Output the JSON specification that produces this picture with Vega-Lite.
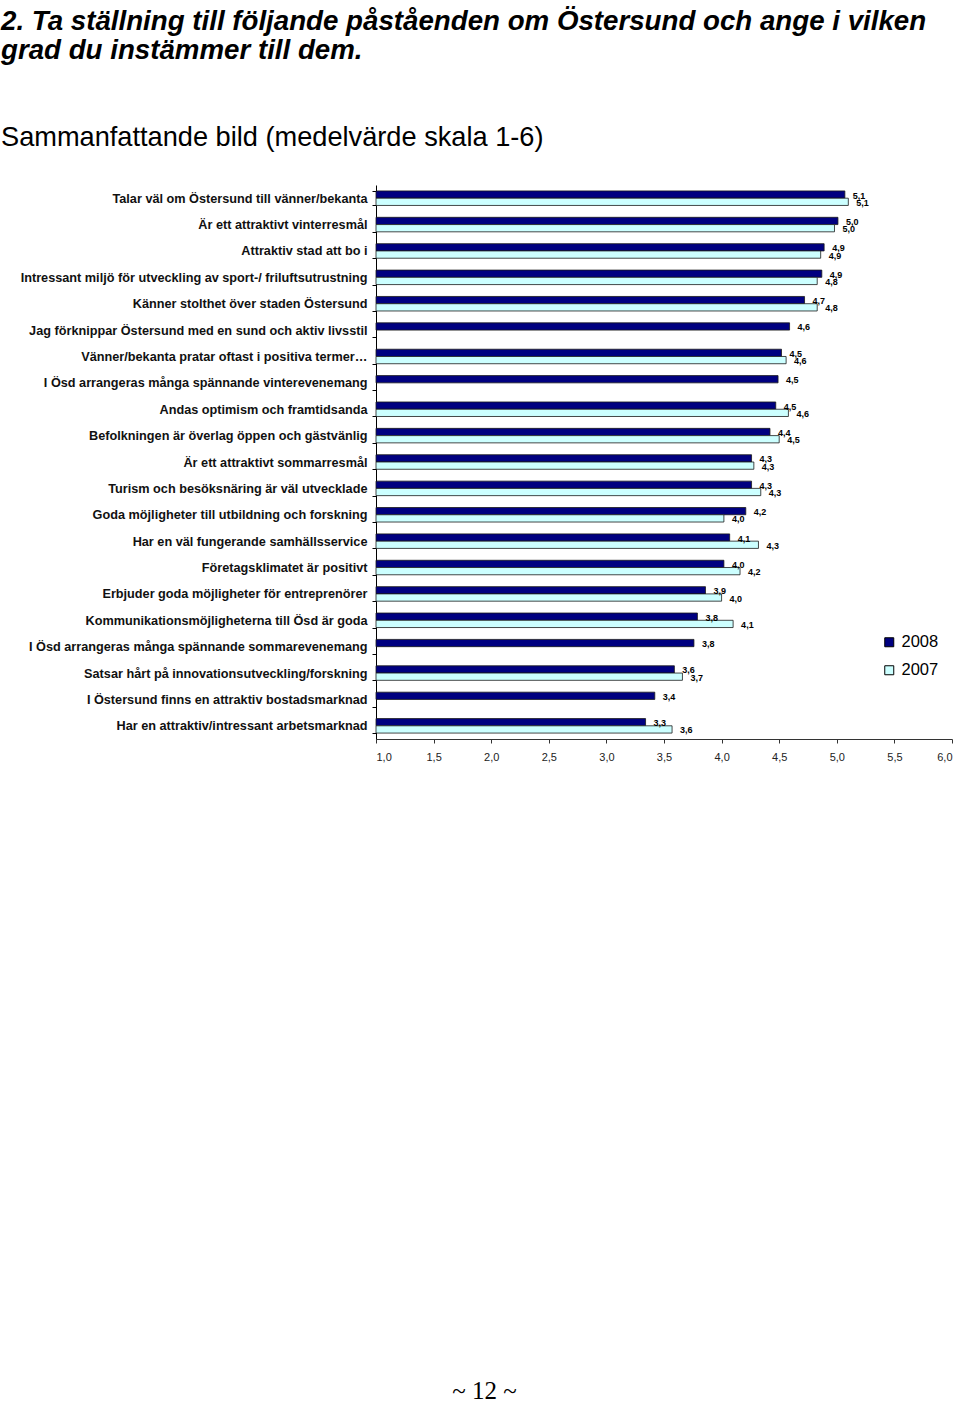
{
  "$schema": "https://vega.github.io/schema/vega-lite/v6.json",
  "autosize": {"type": "none"},
  "padding": {"left": 376, "top": 185, "right": 8, "bottom": 665},
  "width": 576,
  "height": 554,
  "background": "white",
  "title": {
    "text": ["2. Ta ställning till följande påståenden om Östersund och ange i vilken", "grad du instämmer till dem."],
    "subtitle": "Sammanfattande bild (medelvärde skala 1-6)",
    "frame": "group",
    "anchor": "start",
    "orient": "top",
    "dx": -375,
    "offset": 28,
    "font": "Liberation Sans",
    "fontSize": 27.7,
    "fontStyle": "italic",
    "fontWeight": "bold",
    "color": "#000000",
    "lineHeight": 29,
    "subtitleFont": "Liberation Sans",
    "subtitleFontSize": 27.2,
    "subtitleFontWeight": "normal",
    "subtitleColor": "#000000",
    "subtitlePadding": 60
  },
  "data": {
    "values": [
      {"q": "Talar väl om Östersund till vänner/bekanta", "year": "2008", "v": 5.07},
      {"q": "Talar väl om Östersund till vänner/bekanta", "year": "2007", "v": 5.10},
      {"q": "Är ett attraktivt vinterresmål", "year": "2008", "v": 5.01},
      {"q": "Är ett attraktivt vinterresmål", "year": "2007", "v": 4.98},
      {"q": "Attraktiv stad att bo i", "year": "2008", "v": 4.89},
      {"q": "Attraktiv stad att bo i", "year": "2007", "v": 4.86},
      {"q": "Intressant miljö för utveckling av sport-/ friluftsutrustning", "year": "2008", "v": 4.87},
      {"q": "Intressant miljö för utveckling av sport-/ friluftsutrustning", "year": "2007", "v": 4.83},
      {"q": "Känner stolthet över staden Östersund", "year": "2008", "v": 4.72},
      {"q": "Känner stolthet över staden Östersund", "year": "2007", "v": 4.83},
      {"q": "Jag förknippar Östersund med en sund och aktiv livsstil", "year": "2008", "v": 4.59},
      {"q": "Vänner/bekanta pratar oftast i positiva termer…", "year": "2008", "v": 4.52},
      {"q": "Vänner/bekanta pratar oftast i positiva termer…", "year": "2007", "v": 4.56},
      {"q": "I Ösd arrangeras många spännande vinterevenemang", "year": "2008", "v": 4.49},
      {"q": "Andas optimism och framtidsanda", "year": "2008", "v": 4.47},
      {"q": "Andas optimism och framtidsanda", "year": "2007", "v": 4.58},
      {"q": "Befolkningen är överlag öppen och gästvänlig", "year": "2008", "v": 4.42},
      {"q": "Befolkningen är överlag öppen och gästvänlig", "year": "2007", "v": 4.50},
      {"q": "Är ett attraktivt sommarresmål", "year": "2008", "v": 4.26},
      {"q": "Är ett attraktivt sommarresmål", "year": "2007", "v": 4.28},
      {"q": "Turism och besöksnäring är väl utvecklade", "year": "2008", "v": 4.26},
      {"q": "Turism och besöksnäring är väl utvecklade", "year": "2007", "v": 4.34},
      {"q": "Goda möjligheter till utbildning och forskning", "year": "2008", "v": 4.21},
      {"q": "Goda möjligheter till utbildning och forskning", "year": "2007", "v": 4.02},
      {"q": "Har en väl fungerande samhällsservice", "year": "2008", "v": 4.07},
      {"q": "Har en väl fungerande samhällsservice", "year": "2007", "v": 4.32},
      {"q": "Företagsklimatet är positivt", "year": "2008", "v": 4.02},
      {"q": "Företagsklimatet är positivt", "year": "2007", "v": 4.16},
      {"q": "Erbjuder goda möjligheter för entreprenörer", "year": "2008", "v": 3.86},
      {"q": "Erbjuder goda möjligheter för entreprenörer", "year": "2007", "v": 4.00},
      {"q": "Kommunikationsmöjligheterna till Ösd är goda", "year": "2008", "v": 3.79},
      {"q": "Kommunikationsmöjligheterna till Ösd är goda", "year": "2007", "v": 4.10},
      {"q": "I Ösd arrangeras många spännande sommarevenemang", "year": "2008", "v": 3.76},
      {"q": "Satsar  hårt på innovationsutveckling/forskning", "year": "2008", "v": 3.59},
      {"q": "Satsar  hårt på innovationsutveckling/forskning", "year": "2007", "v": 3.66},
      {"q": "I Östersund finns en attraktiv bostadsmarknad", "year": "2008", "v": 3.42},
      {"q": "Har en attraktiv/intressant arbetsmarknad", "year": "2008", "v": 3.34},
      {"q": "Har en attraktiv/intressant arbetsmarknad", "year": "2007", "v": 3.57}
    ]
  },
  "encoding": {
    "y": {
      "field": "q",
      "type": "nominal",
      "sort": null,
      "scale": {"paddingInner": 0.45, "paddingOuter": 0.225},
      "axis": {
        "title": null,
        "tickBand": "extent",
        "tickSize": 4,
        "tickColor": "#000000",
        "domainColor": "#000000",
        "labelFont": "Liberation Sans",
        "labelFontSize": 12.7,
        "labelFontWeight": "bold",
        "labelColor": "#111111",
        "labelPadding": 5,
        "labelLimit": 400
      }
    },
    "yOffset": {"field": "year", "type": "nominal", "scale": {"domain": ["2008", "2007"]}},
    "x": {
      "field": "v",
      "type": "quantitative",
      "scale": {"domain": [1, 6], "nice": false, "zero": false},
      "axis": {
        "values": [1, 1.5, 2, 2.5, 3, 3.5, 4, 4.5, 5, 5.5, 6],
        "format": ".1f",
        "grid": false,
        "tickSize": 4,
        "tickColor": "#333333",
        "domainColor": "#333333",
        "labelFont": "Liberation Sans",
        "labelFontSize": 11,
        "labelColor": "#222222",
        "labelPadding": 8,
        "title": "~ 12 ~",
        "titleFont": "Liberation Serif",
        "titleFontSize": 25,
        "titleFontWeight": "normal",
        "titleColor": "#000000",
        "titleX": 108,
        "titleY": 659,
        "titleAlign": "center",
        "titleBaseline": "alphabetic"
      }
    }
  },
  "layer": [
    {
      "mark": {"type": "bar", "stroke": "#1a1a1a", "strokeWidth": 0.8},
      "encoding": {
        "x2": {"datum": 1},
        "color": {
          "field": "year",
          "type": "nominal",
          "scale": {"domain": ["2008", "2007"], "range": ["#000080", "#CCFFFF"]},
          "legend": {
            "title": null,
            "orient": "none",
            "legendX": 505,
            "legendY": 449,
            "padding": 0,
            "symbolType": "square",
            "symbolSize": 81,
            "symbolStrokeColor": "#000000",
            "symbolStrokeWidth": 1,
            "labelFont": "Liberation Sans",
            "labelFontSize": 16.5,
            "labelColor": "#000000",
            "labelOffset": 4,
            "rowPadding": 11
          }
        }
      }
    },
    {
      "mark": {"type": "text", "align": "left", "baseline": "middle", "dx": 8, "dy": 1, "font": "Liberation Sans", "fontSize": 9, "fontWeight": "bold", "color": "#000000"},
      "encoding": {
        "text": {"field": "v", "type": "quantitative", "format": ".1f"}
      }
    }
  ],
  "config": {
    "view": {"stroke": null},
    "locale": {"number": {"decimal": ",", "thousands": " ", "grouping": [3], "currency": ["", " kr"]}}
  }
}
